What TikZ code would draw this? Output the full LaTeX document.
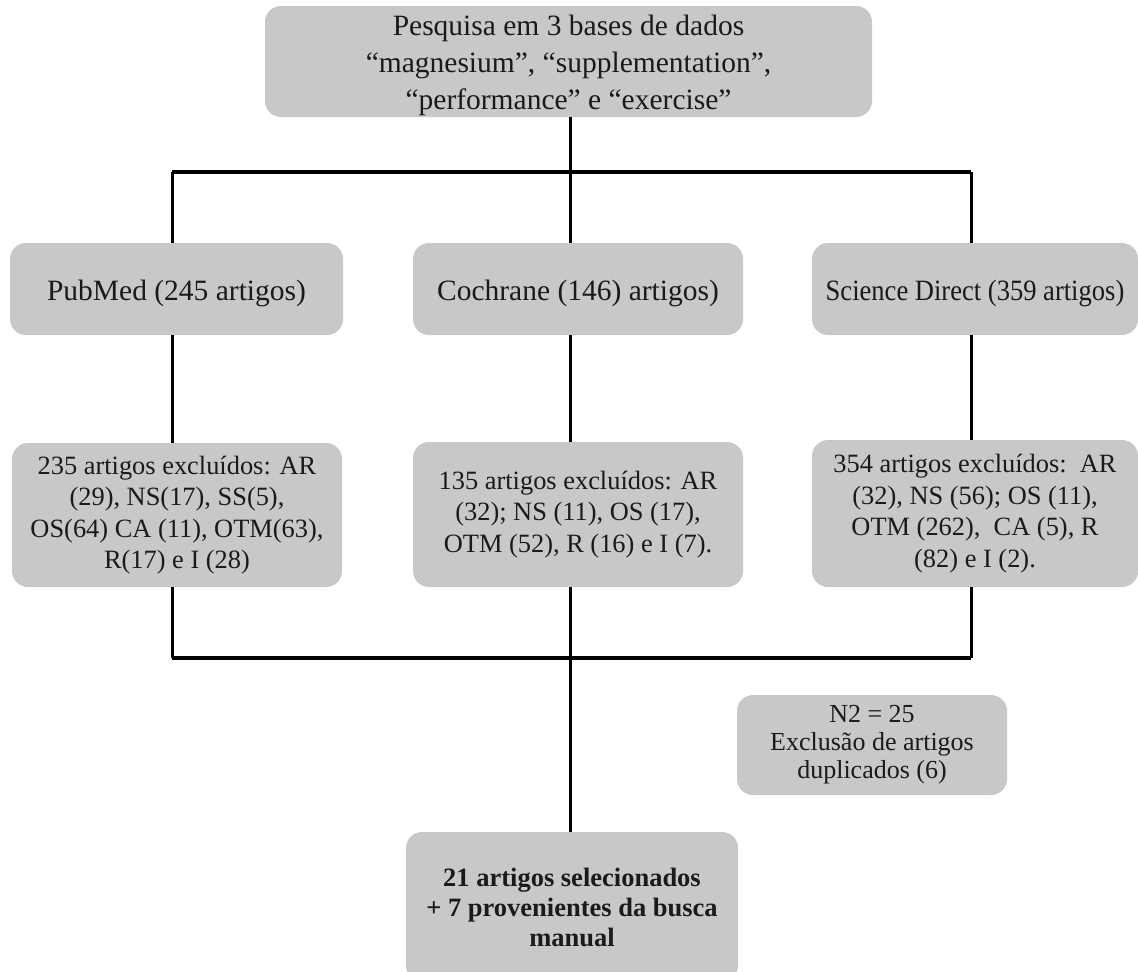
\documentclass[tikz,border=0pt]{standalone}
\usepackage{graphicx}
\usepackage{fontspec}
\setmainfont{Liberation Serif}
\definecolor{boxgray}{HTML}{C8C8C8}
\definecolor{txt}{HTML}{1A1A1A}
\begin{document}
\begin{tikzpicture}[x=0.5pt,y=-0.5pt,
  box/.style={rectangle, rounded corners=8pt, fill=boxgray, draw=none, inner sep=0pt, align=center, text=txt},
  bigtxt/.style={font=\fontsize{14.75}{18.5}\selectfont},
  smalltxt/.style={font=\fontsize{13.2}{15.75}\selectfont},
  ntxt/.style={font=\fontsize{13}{14}\selectfont},
  boldtxt/.style={font=\fontsize{13.25}{15}\selectfont\bfseries},
  vline/.style={line width=1.5pt, draw=black},
  hline/.style={line width=2pt, draw=black}]
\useasboundingbox (0,0) rectangle (1138,971);

\node[box,bigtxt,minimum width=303.5pt,minimum height=55.5pt] (top) at (568.5,61.5)
  {\rule{0pt}{14.5pt}Pesquisa em 3 bases de dados\\“magnesium”, “supplementation”,\\“performance” e “exercise”};

\node[box,bigtxt,minimum width=166.5pt,minimum height=46pt] (pub) at (176.5,289) {\rule{0pt}{14.2pt}PubMed (245 artigos)};
\node[box,bigtxt,minimum width=165pt,minimum height=46pt] (coch) at (578,289) {\rule{0pt}{14.2pt}Cochrane (146) artigos)};
\node[box,bigtxt,minimum width=163pt,minimum height=46pt] (sci) at (975,289) {\rule{0pt}{14.2pt}\scalebox{0.9}[1]{Science Direct (359 artigos)}};

\node[box,smalltxt,minimum width=165pt,minimum height=72pt] (exa) at (177,515)
  {235 artigos excluídos: AR\\(29), NS(17), SS(5),\\OS(64) CA (11), OTM(63),\\R(17) e I (28)};
\node[box,smalltxt,minimum width=165pt,minimum height=72.5pt] (exb) at (578,514.5)
  {135 artigos excluídos: AR\\(32); NS (11), OS (17),\\OTM (52), R (16) e I (7).};
\node[box,smalltxt,minimum width=163pt,minimum height=73.5pt] (exc) at (975,513.5)
  {354 artigos excluídos:\ \ AR\\(32), NS (56); OS (11),\\OTM (262),\ \ CA (5), R\\(82) e I (2).};

\node[box,ntxt,minimum width=135pt,minimum height=50pt] (n2) at (872,745)
  {N2 = 25\\Exclusão de artigos\\duplicados (6)};

\node[box,boldtxt,minimum width=166pt,minimum height=75pt] (fin) at (572,907)
  {21 artigos selecionados\\+ 7 provenientes da busca\\manual};

\coordinate (ja) at (570,172);
\coordinate (jl) at (172,172);
\coordinate (jr) at (971,172);
\coordinate (ka) at (570,658);
\coordinate (kl) at (172,658);
\coordinate (kr) at (971,658);

\draw[vline] (top.south -| ja) -- (ja);
\draw[hline] (jl) -- (jr);
\draw[vline] (jl) -- (pub.north -| jl);
\draw[vline] (ja) -- (coch.north -| ja);
\draw[vline] (jr) -- (sci.north -| jr);

\draw[vline] (pub.south -| jl) -- (exa.north -| jl);
\draw[vline] (coch.south -| ja) -- (exb.north -| ja);
\draw[vline] (sci.south -| jr) -- (exc.north -| jr);

\draw[vline] (exa.south -| kl) -- (kl);
\draw[vline] (exb.south -| ka) -- (ka);
\draw[vline] (exc.south -| kr) -- (kr);
\draw[hline] (kl) -- (kr);
\draw[vline] (ka) -- (fin.north -| ka);
\end{tikzpicture}
\end{document}
